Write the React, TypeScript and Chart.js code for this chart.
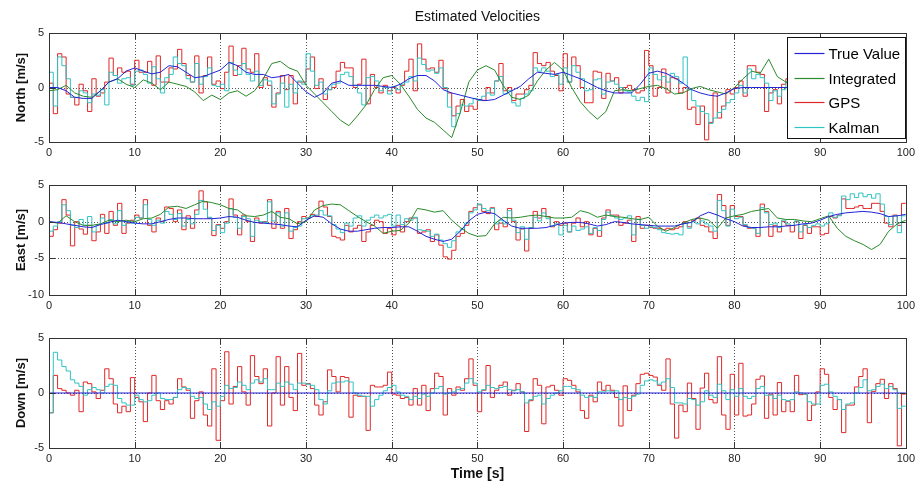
import { useEffect, useRef } from 'react';
import { Chart, registerables } from 'chart.js';

Chart.register(...registerables);

const FONT = "'Liberation Sans', Arial, Helvetica, sans-serif";
const CHART_TITLE = 'Estimated Velocities';
const X_TITLE = 'Time [s]';
const X_MIN = 0;
const X_MAX = 100;
const X_TICK_STEP = 10;
const Y_TICK_STEP = 5;
const FAST_DT = 0.5; // GPS / Kalman sample interval [s]
const SLOW_DT = 1; // True / Integrated sample interval [s]
const FLAT_DT = 10;

const SERIES_NAMES = ['True Value', 'Integrated', 'GPS', 'Kalman'];
const SERIES_COLORS = ['#2222d8', '#2a8a2a', '#e02828', '#30c4c4'];

// ---------------- North ----------------
const NORTH_TRUE = [
  0, 0, -0.3, -0.9, -1.0, -1.0, -0.3, 0.5, 0.8, 1.5,
  1.8, 1.5, 1.25, 1.4, 2.0, 1.9, 1.4, 0.9, 1.0, 1.3,
  1.6, 2.3, 2.0, 1.4, 1.2, 1.2, 0.9, 1.0, 1.2, 0.4,
  -0.4, -0.9, -0.5, 0.4, 0.6, 0.2, 0.2, 0.2, 0.2, 0.1,
  0.0, 0.3, 0.8, 1.1, 1.1, 0.6, -0.2, -0.5, -0.7, -0.9,
  -1.1, -1.2, -1.1, -0.7, -0.3, 0.1, 0.8, 1.4, 1.3, 1.2,
  1.4, 1.1, 0.8, 0.4, 0.0, -0.3, -0.5, -0.5, -0.5, 0.3,
  1.3, 1.5, 1.3, 0.9, 0.4, -0.2, -0.5, -0.7, -0.8, -0.5,
  -0.1, 0.0, 0.0, 0.0, 0.0, 0.0, 0.0, -0.1, -0.3, -0.2,
  0.1, 0.3, 0.2, -0.1, -0.3, -0.2, 0.1, 0.2, 0.0, -0.2,
  -0.3,
];
const NORTH_INTEGRATED = [
  -0.3, -0.2, 0.2, -0.5, -0.8, -0.9, -0.3, 0.5, 0.8, 0.3,
  0.0, 0.7, 0.4, -0.2, 0.5, 0.3, 0.1, -0.4, -1.2, -0.7,
  -1.1, -0.5, -0.3, -0.8, -0.3, 0.8, 2.2, 2.4, 1.8, 1.5,
  0.2, -0.6, -1.4, -2.2, -3.0, -3.5, -2.6, -1.6, -0.2, 0.9,
  1.1, 0.3, -0.8, -2.0, -2.8, -3.2, -3.9, -4.6, -2.3, 0.5,
  1.6, 2.0, 1.6, 0.2, -0.9, -1.1, -0.7, 0.6, 1.6, 2.3,
  1.6, 0.0, -1.3, -2.2, -2.9, -2.2, -0.3, -0.2, -0.3, -0.1,
  0.1, 0.2, -0.1, -0.6, -0.5, -0.1, 0.1, -0.2, -0.4, -0.6,
  0.0, 0.8, 1.5, 1.3, 2.6, 1.0, 0.5, 0.3, 0.0, -0.5,
  -0.8, -0.5, 0.0, 0.4, 0.2, 0.5, 0.8, 0.6, 0.9, 0.8,
  0.8,
];
const NORTH_GPS = [
  0.4, -2.4, 3.1, 2.8, -0.6, -0.9, -1.6, 0.3, -0.3, -2.2,
  0.8, -0.8, -0.5, 0.5, 2.7, 1.1, 1.8, 1.4, 1.5, 0.3,
  2.5, 1.4, 1.4, 2.4, 0.2, 2.9, 0.5, 0.5, 1.8, 1.7,
  3.5, 2.2, 1.1, 0.5, 2.9, -0.5, 1.1, 2.8, 0.3, 0.6,
  -0.1, 1.4, 3.8, 1.1, 2.0, 3.6, 1.7, 1.4, 3.1, 0.0,
  0.9, 0.2, -1.8, -0.5, 1.1, -0.2, 1.1, -1.5, 0.5, 0.5,
  1.7, 2.8, -0.1, 0.8, -1.1, -0.2, 0.0, 1.5, 2.3, 1.8,
  1.8, 0.0, 0.3, 2.6, -1.5, 1.2, 0.0, -0.5, 0.2, -0.3,
  0.0, -0.5, 0.2, 1.5, 2.6, -0.3, 4.0, 2.6, 1.7, 1.8,
  1.4, 2.5, -0.1, -0.5, -2.6, -1.7, -1.1, -2.2, -1.7, -2.0,
  -1.1, -1.2, 0.0, -0.5, 0.6, 2.2, -0.3, 0.0, -1.2, -0.6,
  -0.6, -0.2, 0.2, 3.2, 2.2, 2.0, 2.3, 1.5, 1.1, -0.3,
  3.1, 0.5, 2.8, 2.0, 0.0, -1.4, -1.4, 1.5, 1.4, -1.0,
  1.3, 0.6, 0.9, -0.5, 0.0, 0.2, -0.2, -0.5, -0.3, 3.4,
  2.0, -0.8, 0.0, 1.7, -0.5, 0.9, 0.8, -0.5, 0.0, -2.0,
  -1.8, -3.4, -1.7, -4.8, -3.2, -0.5, -2.8, -1.7, -0.2, -0.6,
  0.0, 0.6, -0.8, 2.0, 2.0, 1.4, 1.2, -2.2, -0.5, -0.2,
  -1.5, 0.3, 0.8, -0.6, 1.2, 0.4, -1.0, 0.5, 1.5, -0.3,
  0.2, 1.0, -0.8, 0.6, 1.3, -0.4, 0.0, 0.9, -1.2, 0.3,
  0.7, -0.5, 1.1, 0.2, -0.9, 0.4, 0.8, -0.3, 0.5, -0.5,
];
const NORTH_KALMAN = [
  1.4, -1.7, 2.8, 2.0, 0.8, -0.9, -0.9, -0.3, -0.5, -1.4,
  -0.6, -0.7, -0.2, -1.6, 1.4, 1.1, 0.4, 0.8, 0.9, 0.2,
  1.5, 1.6, 1.2, 0.4, 1.9, 0.8, -0.5, 0.9, 1.2, 2.8,
  2.2, 2.0, 0.8, 0.5, 2.2, 0.3, 1.0, 1.8, 0.2, 0.1,
  0.3, -0.3, 2.3, 1.6, 1.2, 2.2, 1.2, 0.6, 1.5, 0.2,
  0.7, 0.6, -1.5, -0.6, 0.4, -1.8, 0.3, -0.5, 0.6, 0.3,
  3.1, 1.5, 0.2, 0.5, -0.6, -0.2, 0.3, 0.4, 1.2, 1.4,
  1.0, 0.2, -0.5, -1.6, 0.9, 1.0, 0.6, -0.3, 0.0, -0.6,
  0.1, -0.2, 0.3, 0.5, 1.0, 0.6, 2.7, 2.1, 1.5, 1.6,
  1.3, 1.8, 0.0, -1.8, -3.6, -2.4, -1.6, -1.7, -1.5, -1.0,
  -1.2, -0.8, -0.5, -0.7, 0.6, 1.0, -0.6, -0.3, -1.4, -1.7,
  -1.0, -0.6, -0.3, 1.8, 1.5, 1.8, 1.5, 1.0, 1.2, 0.3,
  1.8, 0.5, 2.0, 1.4, 0.8, -0.3, -0.2, 0.7, 0.8, -0.6,
  0.5, 0.6, 0.3, 0.0, -0.3, -0.4, -0.8, -1.2, -0.9, -1.3,
  1.8, 1.2, 0.7, 1.0, 0.5, 1.3, 1.0, 0.4, 2.8, -0.2,
  -1.2, -1.7, -2.2, -2.4, -3.3, -2.8, -2.3, -2.0, -1.4, -1.1,
  -0.5, 0.2, -0.5, 1.7, 0.8, 1.2, 0.9, 0.4, -1.2, -0.3,
  -0.8, -0.2, 0.5, -0.3, 0.8, 0.3, -0.5, 0.3, 0.9, 0.0,
  0.3, 0.6, -0.4, 0.4, 0.8, -0.1, 0.1, 0.5, -0.6, 0.2,
  0.4, -0.2, 0.6, 0.3, -0.4, 0.2, 0.5, 0.0, 0.4, 0.3,
];

// ---------------- East ----------------
const EAST_TRUE = [
  0, -0.1, -0.3, -0.5, -0.7, -0.8, -0.4, -0.1, 0.2, 0.0,
  -0.2, -0.3, -0.3, 0.0, 0.3, 0.5, 0.5, 0.4, 0.4, 0.4,
  0.5, 0.7, 0.6, 0.2, -0.1, -0.2, -0.3, -0.4, -0.6, -0.7,
  0.2, 0.8, 0.6, -0.3, -1.0, -1.3, -1.3, -1.1, -0.9, -0.8,
  -0.8, -0.7, -0.7, -1.3, -2.0, -2.4, -2.7, -2.4, -1.3, 0.1,
  1.0, 1.3, 1.1, 0.2, -0.6, -0.9, -0.9, -0.9, -0.8, -0.5,
  -0.2, -0.1, -0.1, -0.3, -0.6, -0.4, 0.0, -0.1, -0.3, -0.4,
  -0.5, -0.6, -0.6, -0.6, -0.3, -0.1, 0.8, 1.3, 0.9, 0.4,
  0.0, -0.6, -0.8, -0.8, -0.7, -0.7, -0.6, -0.5, -0.3, -0.2,
  0.2, 0.7, 1.0, 1.2, 1.3, 1.4, 1.3, 1.1, 0.7, 0.8,
  1.0,
];
const EAST_INTEGRATED = [
  0, -0.2, 0.8, 0.0, -0.5, -0.5, -0.3, 0.2, 0.0, 0.2,
  0.0, 0.4, 0.5, 1.0, 2.0, 2.1, 1.8, 2.3, 2.8, 2.6,
  2.3, 1.8, 1.6, 0.8, 0.7, 0.9, 1.4, 0.6, 0.4, -0.3,
  0.0, 1.6, 2.2, 2.4, 2.3, 1.5, 0.7, 0.0, -0.6, -1.6,
  -1.3, -1.2, -0.2, 1.8, 1.6, 1.3, 1.5, 0.2, -0.8, -1.6,
  -2.0, -1.9, -0.3, 0.6, 0.5, 0.6, 0.8, 0.9, 0.7, 0.5,
  0.5, 0.6, 1.5, 1.2, 0.6, 0.9, 0.7, 0.6, 0.4, 0.3,
  0.6, -0.6, -1.3, -0.8, -0.2, 0.3, 0.5, 0.2, -0.9, 0.5,
  0.8, 1.0, 1.4, 1.6, 1.8, 0.5, 0.3, 0.3, 0.1, 0.0,
  0.4, 0.8, -0.9, -2.0, -2.6, -3.1, -3.8, -3.1, -1.3, -0.3,
  0.2,
];
const EAST_GPS = [
  -2.0, -1.1, -0.2, 3.0, 0.9, -3.3, 0.0, -1.0, -1.7, -0.5,
  -2.6, -1.4, 1.0, -1.6, 1.4, -0.5, 2.5, -1.6, -0.2, 0.2,
  0.9, 0.5, 3.0, -0.5, -1.4, 0.5, 0.0, 2.0, 1.8, 0.0,
  1.6, -1.1, 0.8, -0.9, 1.6, 4.2, 2.7, 0.5, -1.9, -0.4,
  -0.9, 0.0, 3.1, 0.9, -1.8, 0.9, 0.0, -2.7, 0.5, -0.2,
  0.0, 3.0, -0.9, 1.4, -0.9, 1.8, -2.3, -1.1, 0.0, 0.7,
  0.5, 1.0, 0.7, 2.8, 2.0, 0.7, -2.0, -2.2, -2.5, -0.5,
  -1.4, -0.9, -0.5, -2.7, -1.4, -0.5, 0.2, 0.0, -1.6, -0.9,
  -1.8, -0.5, -1.4, 0.0, 0.5, 0.5, -1.6, -1.4, -1.1, -2.7,
  -1.8, -3.2, -4.8, -5.1, -3.9, -2.0, -1.6, -0.5, 1.4, 1.9,
  2.3, 1.4, 1.1, 1.9, -1.1, -0.2, -0.7, 1.8, 0.0, -2.5,
  -1.0, -4.0, -0.9, 1.4, 0.5, 1.8, 0.7, -0.7, 0.0, -0.5,
  -0.2, -1.4, -0.2, 0.5, -0.7, 0.0, -1.8, -0.9, -2.0, 0.5,
  1.6, 0.9, 0.9, -0.5, -0.2, 0.2, -2.7, 0.7, -0.9, -0.5,
  -0.8, -0.9, -0.9, -1.1, -0.9, -1.1, -0.9, -0.7, 0.0, -0.7,
  0.2, 0.5, -0.5, -0.7, -1.4, -2.3, 3.7, 2.2, -0.5, 2.2,
  0.7, 0.7, -0.5, -0.9, -0.9, -2.0, 2.4, 1.4, -2.0, -0.5,
  -1.4, 0.0, -0.5, -1.4, 0.0, -2.3, -0.5, -1.6, -0.7, -0.7,
  -1.8, -1.6, 0.7, 0.5, 0.9, 3.1, 1.8, 1.8, 2.0, 2.2,
  1.8, 1.8, 2.5, 2.5, 1.4, -0.2, -0.7, 0.9, -0.5, 2.5,
];
const EAST_KALMAN = [
  -1.3, -0.6, 0.0, 2.3, 1.5, -0.5, -0.8, 0.3, -0.5, 0.7,
  -1.4, -0.4, 0.5, -0.2, 0.3, -0.3, 1.5, -0.5, 0.0, -0.2,
  0.6, 0.5, 2.3, 0.3, -0.5, 0.2, -0.2, 1.4, 1.0, 0.3,
  1.1, -0.6, 0.3, -0.3, 1.0, 2.9, 1.7, 0.6, -1.2, -0.5,
  -1.5, -0.2, 1.8, 0.6, -0.9, 0.7, 0.4, -2.0, 0.2, 0.0,
  -0.1, 2.7, 0.1, 1.2, -0.6, 1.2, -1.3, -0.8, -0.6, 0.4,
  0.5, 0.8, 0.9, 1.5, 0.9, 0.8, -0.4, -1.0, -1.5, -0.2,
  -0.6, 0.5, 0.8, -0.6, 0.2, 0.6, 0.9, 0.5, 0.8, 1.0,
  -0.6, 0.9, -0.4, 0.4, 0.2, 0.6, -1.1, -1.2, -1.3, -2.0,
  -1.7, -2.5, -3.0, -3.5, -2.6, -1.4, -1.0, -0.2, 1.2, 1.6,
  2.4, 1.8, 1.5, 1.8, -0.3, 0.2, -0.3, 1.5, 0.2, -1.5,
  -0.7, -2.4, -0.8, 0.6, 0.1, 1.2, 0.4, -0.6, -0.3, -1.8,
  -0.5, -1.4, -0.6, -1.2, -1.0, -0.7, -1.6, -0.8, -1.2, 0.3,
  1.3, 0.8, 0.5, 0.3, 0.5, 0.8, -1.8, 0.3, -0.5, -0.9,
  -0.7, -0.8, -1.1, -1.5, -1.6, -1.7, -1.6, -1.8, -0.2, -0.9,
  0.0, -0.3, 0.1, -0.3, -0.6, -1.3, 2.9, 1.5, -0.6, 1.7,
  0.4, 0.6, -0.4, -0.8, -0.9, -1.6, 1.9, 1.2, -0.4, -0.2,
  -0.8, 0.2, -0.3, -0.5, 0.1, -1.4, -0.4, -0.8, -0.5, -0.3,
  -0.6, -0.3, 1.2, 0.6, 0.8, 3.5, 3.0, 3.8, 3.3, 3.9,
  3.4, 3.7, 3.2, 3.8, 2.4, 0.7, -0.4, 0.8, -1.5, 0.8,
];

// ---------------- Down ----------------
const DOWN_TRUE = [0, 0, 0, 0, 0, 0, 0, 0, 0, 0, 0];
const DOWN_INTEGRATED: number[] = [];
const DOWN_GPS = [
  -1.8, 1.6, 0.4, 0.25, 0.0, -0.2, 0.25, -1.7, 1.0, 0.85,
  0.1, -0.5, 0.25, 2.2, 1.3, -1.0, -1.8, -1.2, -1.7, 1.4,
  -0.4, -0.8, -2.6, 0.0, 1.6, -0.7, -1.5, -0.7, -1.0, -0.4,
  1.3, 0.55, 0.25, -2.3, -0.7, 0.1, -2.0, -3.0, 2.2, -4.3,
  -0.7, 3.75, -1.0, 0.6, 2.4, 0.1, -1.1, 3.4, 1.5, 0.85,
  2.2, -3.0, 0.0, 3.3, -1.1, 2.4, -0.4, -1.6, 3.6, 0.7,
  0.85, 0.4, -1.1, -2.0, -0.8, 2.1, 1.5, 0.1, 1.5, 1.4,
  -2.2, -0.2, -0.3, -0.3, -3.4, 0.7, 0.55, 0.55, 0.7, 1.9,
  -0.1, -0.2, -0.5, -0.4, -1.1, 0.4, -1.1, 0.7, -1.6, 0.4,
  1.8, 1.5, -2.0, 0.4, -0.2, 0.55, 0.25, 1.3, 3.1, 0.7,
  -1.7, 0.25, 2.5, -0.4, 0.25, 0.7, 1.0, -0.2, 0.25, 0.85,
  0.1, -3.5, -0.7, 1.3, 0.7, -2.8, 0.55, 0.7, 0.25, -0.2,
  1.3, 1.15, 0.7, 0.1, -1.6, -2.3, -0.2, -0.8, 1.0, 0.25,
  0.7, 0.25, -0.4, -3.0, 0.65, -1.6, -0.2, 0.85, 1.7, 1.8,
  1.6, 1.45, 0.7, 0.25, 3.1, -1.0, -4.1, -1.1, -1.7, 0.9,
  -0.5, -3.3, 0.45, 1.8, -0.6, -0.9, 3.3, -2.0, -3.3, 1.7,
  -2.0, 2.7, -2.1, -2.0, -1.0, 1.25, 1.55, -2.3, -0.1, -2.0,
  0.95, -1.7, -0.75, -1.7, 1.6, -0.15, -0.1, -2.5, -1.1, 0.1,
  2.2, 1.7, -0.4, -1.5, -0.6, -3.6, -1.1, -1.1, 0.55, 1.5,
  2.2, -2.7, 0.15, 0.85, 1.25, -0.5, 0.85, 0.4, -4.8, -0.1,
];
const DOWN_KALMAN = [
  -1.8, 3.7, 3.0, 2.4, 2.0, 1.2, 0.9, 0.6, -0.2, 0.3,
  0.5, 0.3, 0.0, 0.6, 0.8, 0.7, -0.5, -0.9, -1.1, -1.1,
  -0.2, -0.6, -0.8, -0.7, -0.2, 0.0, -0.5, -0.6, -0.6, -0.4,
  0.3, 0.5, 0.4, -0.3, -0.5, -0.4, -1.0, -1.5, -0.8, -1.2,
  -0.3, 0.7, 0.4, 0.5, 1.0, 0.7, 0.3, 0.9, 1.2, 1.0,
  1.3, 0.3, 0.3, 0.9, 0.6, 1.0, 0.8, 0.3, 0.9, 0.9,
  0.8, 0.7, 0.3, -0.6, -1.0, 0.2, 0.9, 1.0, 1.0, 1.1,
  1.0, 0.0, -0.2, -0.3, -0.3, -1.2, -0.6, -0.2, 0.2, 0.5,
  0.7, 0.1, -0.2, -0.3, -0.6, -0.3, -0.5, -0.1, -0.3, 0.0,
  0.4, 0.6, -0.1, 0.0, 0.1, 0.3, 0.4, 0.9, 1.3, 0.9,
  0.1, 0.3, 0.7, 0.5, 0.4, 0.5, 0.6, 0.3, 0.2, 0.3,
  0.1, -0.9, -0.6, -0.3, -0.2, -1.0, -0.5, -0.2, 0.0, 0.2,
  0.6, 0.6, 0.4, 0.3, -0.2, -0.4, -0.3, -0.4, 0.1, 0.1,
  0.2, 0.1, 0.2, -0.6, -0.4, -0.5, -0.3, -0.1, 0.7, 1.1,
  1.2, 1.1, 0.8, 1.0, 1.3, 0.5, -0.9, -0.9, -1.0, -0.5,
  -0.6, -1.1, -0.8, 0.2, -0.2, -0.4, 0.8, 0.2, -0.6, 0.3,
  -0.3, 0.4, -0.3, -0.5, -0.3, 0.4, 0.6, -0.2, -0.2, -0.5,
  -0.2, -0.6, -0.7, -0.6, 0.1, 0.0, -0.1, -0.8, -1.0, -1.0,
  0.7, 0.8, 0.1, -0.3, -0.6, -1.5, -1.0, -0.9, 0.0, 0.5,
  1.2, 0.2, 0.3, 0.6, 0.8, 0.4, 0.6, 0.3, -1.4, -1.2,
];

type PanelDef = {
  yLabel: string;
  yMin: number;
  yMax: number;
  trueV: number[];
  trueDt: number;
  integrated: number[];
  gps: number[];
  kalman: number[];
  top: number;
  height: number;
  padTop: number;
  xAxisHeight: number;
  showTitle: boolean;
  showLegend: boolean;
  showXTitle: boolean;
};

const PANELS: PanelDef[] = [
  { yLabel: 'North [m/s]', yMin: -5, yMax: 5, trueV: NORTH_TRUE, trueDt: SLOW_DT, integrated: NORTH_INTEGRATED, gps: NORTH_GPS, kalman: NORTH_KALMAN, top: 0, height: 162, padTop: 33, xAxisHeight: 20, showTitle: true, showLegend: true, showXTitle: false },
  { yLabel: 'East [m/s]', yMin: -10, yMax: 5, trueV: EAST_TRUE, trueDt: SLOW_DT, integrated: EAST_INTEGRATED, gps: EAST_GPS, kalman: EAST_KALMAN, top: 162, height: 153, padTop: 23, xAxisHeight: 20, showTitle: false, showLegend: false, showXTitle: false },
  { yLabel: 'Down [m/s]', yMin: -5, yMax: 5, trueV: DOWN_TRUE, trueDt: FLAT_DT, integrated: DOWN_INTEGRATED, gps: DOWN_GPS, kalman: DOWN_KALMAN, top: 315, height: 173, padTop: 23, xAxisHeight: 40, showTitle: false, showLegend: false, showXTitle: true },
];

const linePoints = (vals: number[], dt: number) => vals.map((v, i) => ({ x: i * dt, y: v }));
const stepPoints = (vals: number[], dt: number) => {
  const pts = vals.map((v, i) => ({ x: i * dt, y: v }));
  if (vals.length) pts.push({ x: vals.length * dt, y: vals[vals.length - 1] });
  return pts;
};

const framePlugin = {
  id: 'matlabFrame',
  beforeDatasetsDraw(chart: any) {
    const { ctx, chartArea: a, scales } = chart;
    const xs = scales.x;
    const ys = scales.y;
    ctx.save();
    ctx.strokeStyle = '#555';
    ctx.lineWidth = 1;
    ctx.setLineDash([1, 2]);
    ctx.beginPath();
    xs.ticks.forEach((t: any) => {
      if (t.value <= xs.min || t.value >= xs.max) return;
      const px = Math.round(xs.getPixelForValue(t.value)) + 0.5;
      ctx.moveTo(px, a.top);
      ctx.lineTo(px, a.bottom);
    });
    ys.ticks.forEach((t: any) => {
      if (t.value <= ys.min || t.value >= ys.max) return;
      const py = Math.round(ys.getPixelForValue(t.value)) + 0.5;
      ctx.moveTo(a.left, py);
      ctx.lineTo(a.right, py);
    });
    ctx.stroke();
    ctx.restore();
  },
  afterDatasetsDraw(chart: any) {
    const { ctx, chartArea: a, scales } = chart;
    const xs = scales.x;
    const ys = scales.y;
    const tl = 6;
    ctx.save();
    ctx.strokeStyle = '#333';
    ctx.lineWidth = 1;
    ctx.setLineDash([]);
    ctx.beginPath();
    xs.ticks.forEach((t: any) => {
      const px = Math.round(xs.getPixelForValue(t.value)) + 0.5;
      ctx.moveTo(px, a.top);
      ctx.lineTo(px, a.top + tl);
      ctx.moveTo(px, a.bottom);
      ctx.lineTo(px, a.bottom - tl);
    });
    ys.ticks.forEach((t: any) => {
      const py = Math.round(ys.getPixelForValue(t.value)) + 0.5;
      ctx.moveTo(a.left, py);
      ctx.lineTo(a.left + tl, py);
      ctx.moveTo(a.right, py);
      ctx.lineTo(a.right - tl, py);
    });
    ctx.stroke();
    const l = Math.round(a.left) + 0.5;
    const r = Math.round(a.right) + 0.5;
    const t = Math.round(a.top) + 0.5;
    const b = Math.round(a.bottom) + 0.5;
    ctx.strokeRect(l, t, r - l, b - t);
    ctx.restore();
  },
};

const decorPlugin = (def: PanelDef) => ({
  id: 'decor',
  afterDraw(chart: any) {
    const { ctx, chartArea: a } = chart;
    ctx.save();
    if (def.showTitle) {
      ctx.fillStyle = '#111';
      ctx.font = `14px ${FONT}`;
      ctx.textAlign = 'center';
      ctx.textBaseline = 'middle';
      ctx.fillText(CHART_TITLE, (a.left + a.right) / 2, 17);
    }
    if (def.showLegend) {
      const bx = 787.5;
      const by = 37.5;
      const bw = 118;
      const bh = 101;
      ctx.fillStyle = '#fff';
      ctx.fillRect(bx, by, bw, bh);
      ctx.strokeStyle = '#111';
      ctx.lineWidth = 1;
      ctx.strokeRect(bx, by, bw, bh);
      ctx.font = `15px ${FONT}`;
      ctx.textAlign = 'left';
      ctx.textBaseline = 'middle';
      SERIES_NAMES.forEach((name, i) => {
        const y = Math.round(by + 15.5 + i * 24.7) + 0.5;
        ctx.strokeStyle = SERIES_COLORS[i];
        ctx.lineWidth = 1.2;
        ctx.beginPath();
        ctx.moveTo(bx + 7, y);
        ctx.lineTo(bx + 37, y);
        ctx.stroke();
        ctx.fillStyle = '#000';
        ctx.fillText(name, bx + 41, y + 1);
      });
    }
    ctx.restore();
  },
});

function Panel({ def }: { def: PanelDef }) {
  const ref = useRef<HTMLCanvasElement | null>(null);
  useEffect(() => {
    if (!ref.current) return;
    const datasets: any[] = [];
    datasets.push({ label: SERIES_NAMES[0], data: linePoints(def.trueV, def.trueDt), borderColor: SERIES_COLORS[0], borderWidth: 1 });
    if (def.integrated.length) {
      datasets.push({ label: SERIES_NAMES[1], data: linePoints(def.integrated, SLOW_DT), borderColor: SERIES_COLORS[1], borderWidth: 1 });
    }
    datasets.push({ label: SERIES_NAMES[3], data: stepPoints(def.kalman, FAST_DT), borderColor: SERIES_COLORS[3], borderWidth: 1, stepped: 'before' });
    datasets.push({ label: SERIES_NAMES[2], data: stepPoints(def.gps, FAST_DT), borderColor: SERIES_COLORS[2], borderWidth: 1, stepped: 'before' });

    const tickFont = { family: FONT, size: 11 };
    const chart = new Chart(ref.current, {
      type: 'line',
      data: { datasets },
      options: {
        animation: false,
        responsive: false,
        maintainAspectRatio: false,
        events: [],
        layout: { padding: { top: def.padTop, right: 11, bottom: 0, left: 0 } },
        elements: { point: { radius: 0 }, line: { tension: 0, borderWidth: 1 } },
        plugins: { legend: { display: false }, tooltip: { enabled: false }, title: { display: false } },
        scales: {
          x: {
            type: 'linear',
            min: X_MIN,
            max: X_MAX,
            grid: { display: false, drawTicks: false },
            border: { display: false },
            ticks: { stepSize: X_TICK_STEP, font: tickFont, color: '#222', padding: 4, maxRotation: 0, autoSkip: false },
            title: {
              display: def.showXTitle,
              text: X_TITLE,
              font: { family: FONT, size: 14, weight: 'bold' },
              color: '#111',
              padding: { top: 0, bottom: 5 },
            },
            afterFit: (s: any) => { s.height = def.xAxisHeight; },
          },
          y: {
            type: 'linear',
            min: def.yMin,
            max: def.yMax,
            grid: { display: false, drawTicks: false },
            border: { display: false },
            ticks: { stepSize: Y_TICK_STEP, font: tickFont, color: '#222', padding: 5 },
            title: {
              display: true,
              text: def.yLabel,
              font: { family: FONT, size: 13, weight: 'bold' },
              color: '#111',
              padding: { top: 14, bottom: 0 },
            },
            afterFit: (s: any) => { s.width = 49; },
          },
        },
      } as any,
      plugins: [framePlugin, decorPlugin(def)],
    });
    return () => chart.destroy();
  }, [def]);
  return (
    <canvas
      ref={ref}
      width={919}
      height={def.height}
      style={{ position: 'absolute', left: 0, top: def.top, width: 919, height: def.height }}
    />
  );
}

export default function App() {
  return (
    <div style={{ position: 'absolute', left: 0, top: 0, width: 919, height: 488, background: '#fff' }}>
      {PANELS.map((p) => (
        <Panel key={p.yLabel} def={p} />
      ))}
    </div>
  );
}
